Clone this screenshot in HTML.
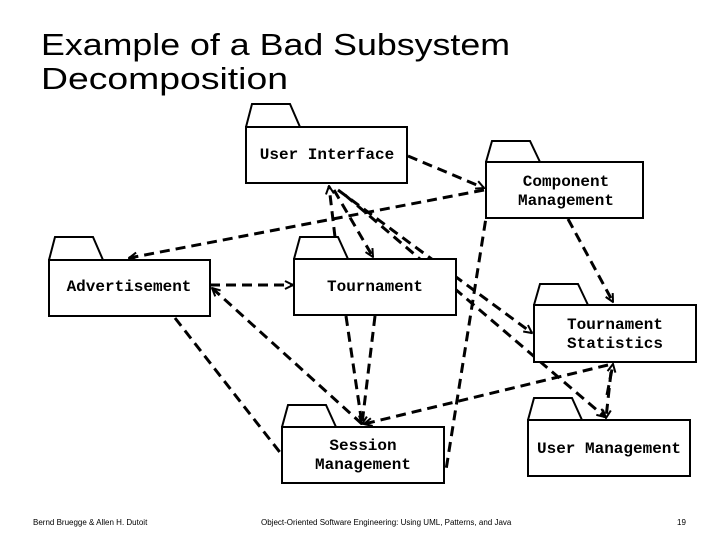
<!DOCTYPE html>
<html><head><meta charset="utf-8"><style>
html,body{margin:0;padding:0;background:#fff;}
svg{display:block;}
.t{font-family:"Liberation Sans",sans-serif;font-size:31px;fill:#000;}
.l{font-family:"Liberation Mono",monospace;font-size:16px;font-weight:bold;fill:#000;}
.f{font-family:"Liberation Sans",sans-serif;font-size:8px;fill:#000;}
.b{fill:#fff;stroke:#000;stroke-width:2;}
.d{stroke:#000;stroke-width:3;stroke-dasharray:10,6;fill:none;}
</style></head><body>
<svg width="720" height="540" viewBox="0 0 720 540">
<defs><marker id="a" markerWidth="10" markerHeight="10" refX="9" refY="5" orient="auto" markerUnits="userSpaceOnUse"><path d="M1,1 L9,5 L1,9" fill="none" stroke="#000" stroke-width="2"/></marker></defs>
<text class="t" x="41" y="55" textLength="469" lengthAdjust="spacingAndGlyphs">Example of a Bad Subsystem</text>
<text class="t" x="41" y="89" textLength="247" lengthAdjust="spacingAndGlyphs">Decomposition</text>

<g>
<line class="d" x1="408" y1="156" x2="484" y2="188" marker-end="url(#a)"/>
<line class="d" x1="484" y1="190" x2="129" y2="258" marker-end="url(#a)"/>
<line class="d" x1="335" y1="237" x2="329" y2="186" marker-end="url(#a)"/>
<line class="d" x1="334" y1="190" x2="373" y2="257" marker-end="url(#a)"/>
<line class="d" x1="338" y1="190" x2="532" y2="333" marker-end="url(#a)"/>
<line class="d" x1="345" y1="195" x2="605" y2="417" marker-end="url(#a)"/>
<line class="d" x1="488" y1="205" x2="446" y2="470"/>
<line class="d" x1="568" y1="219" x2="613" y2="302" marker-end="url(#a)"/>
<line class="d" x1="210" y1="285" x2="293" y2="285" marker-end="url(#a)"/>
<line class="d" x1="362" y1="424" x2="212" y2="288" marker-end="url(#a)"/>
<line class="d" x1="175" y1="318" x2="282" y2="455"/>
<line class="d" x1="346" y1="316" x2="362" y2="424"/>
<line class="d" x1="375" y1="316" x2="362" y2="424" marker-end="url(#a)"/>
<line class="d" x1="608" y1="365" x2="364" y2="424" marker-end="url(#a)"/>
<line class="d" x1="611" y1="372" x2="606" y2="418" marker-end="url(#a)"/>
<line class="d" x1="607" y1="395" x2="613" y2="364" marker-end="url(#a)"/>
</g>

<g>
<path class="b" d="M246,127 L252,104 L290,104 L300,127"/><rect class="b" x="246" y="127" width="161" height="56"/>
<text class="l" x="327" y="159" text-anchor="middle">User Interface</text>

<path class="b" d="M486,162 L492,141 L530,141 L540,162"/><rect class="b" x="486" y="162" width="157" height="56"/>
<text class="l" x="566" y="186" text-anchor="middle">Component</text>
<text class="l" x="566" y="205" text-anchor="middle">Management</text>

<path class="b" d="M49,260 L55,237 L93,237 L103,260"/><rect class="b" x="49" y="260" width="161" height="56"/>
<text class="l" x="129" y="291" text-anchor="middle">Advertisement</text>

<path class="b" d="M294,259 L300,237 L338,237 L348,259"/><rect class="b" x="294" y="259" width="162" height="56"/>
<text class="l" x="375" y="291" text-anchor="middle">Tournament</text>

<path class="b" d="M534,305 L540,284 L578,284 L588,305"/><rect class="b" x="534" y="305" width="162" height="57"/>
<text class="l" x="615" y="329" text-anchor="middle">Tournament</text>
<text class="l" x="615" y="348" text-anchor="middle">Statistics</text>

<path class="b" d="M282,427 L288,405 L326,405 L336,427"/><rect class="b" x="282" y="427" width="162" height="56"/>
<text class="l" x="363" y="450" text-anchor="middle">Session</text>
<text class="l" x="363" y="469" text-anchor="middle">Management</text>

<path class="b" d="M528,420 L534,398 L572,398 L582,420"/><rect class="b" x="528" y="420" width="162" height="56"/>
<text class="l" x="609" y="453" text-anchor="middle">User Management</text>
</g>

<text class="f" x="33" y="525">Bernd Bruegge &amp; Allen H. Dutoit</text>
<text class="f" x="261" y="525">Object-Oriented Software Engineering: Using UML, Patterns, and Java</text>
<text class="f" x="677" y="525">19</text>
</svg>
</body></html>
